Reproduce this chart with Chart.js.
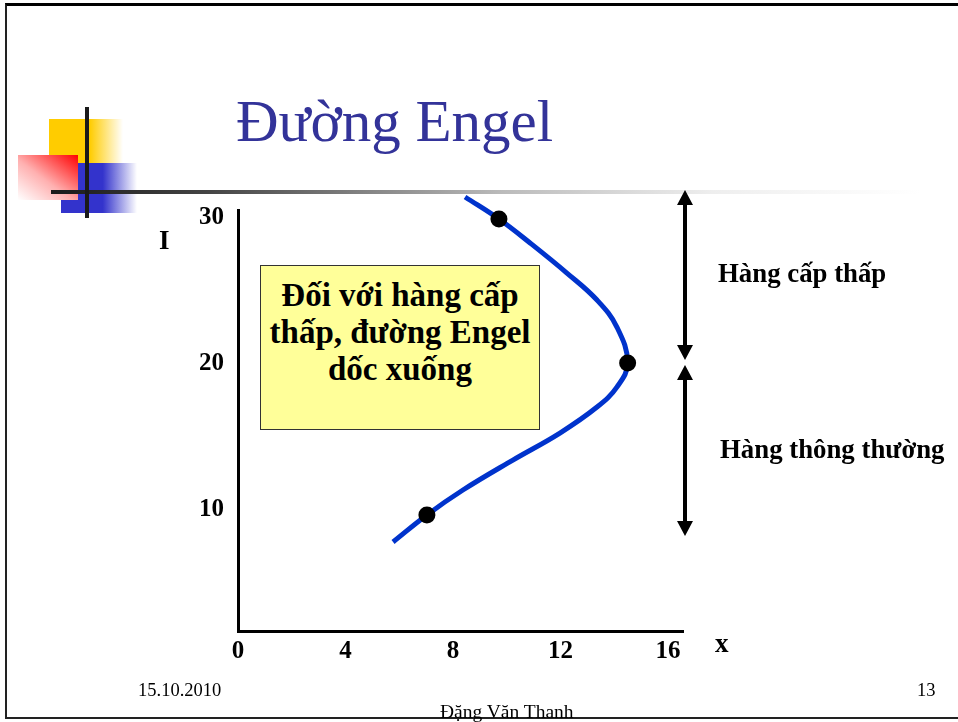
<!DOCTYPE html>
<html lang="vi">
<head>
<meta charset="utf-8">
<title>Đường Engel</title>
<script src="https://cdn.jsdelivr.net/npm/chart.js@4"></script>
<style>
  html, body { margin: 0; padding: 0; background: #fff; }
  body { width: 958px; height: 722px; position: relative; overflow: hidden; font-family: 'Liberation Serif', serif; }
  #chart { position: absolute; left: 0; top: 0; }
  .abs { position: absolute; white-space: nowrap; }
  .frame { position: absolute; left: 5px; top: 3px; width: 960px; height: 716px; border-top: 3px solid #000; border-left: 2px solid #222; border-bottom: 2px solid #222; box-sizing: border-box; }
  .sq-yellow { left: 49px; top: 119px; width: 74px; height: 44px; background: linear-gradient(to right, #ffcc00 0%, #ffcc00 55%, rgba(255,204,0,0) 100%); }
  .sq-blue { left: 61px; top: 163px; width: 76px; height: 50px; background: linear-gradient(to right, #3333cc 0%, #3333cc 55%, rgba(51,51,204,0) 100%); }
  .sq-red { left: 18px; top: 155px; width: 60px; height: 45px; background: linear-gradient(to bottom left, #ff0000 0%, #ffb0b0 55%, #ffffff 100%); }
  .bar-v { left: 85px; top: 107px; width: 4px; height: 111px; background: #1a1a1a; }
  .bar-h { left: 51px; top: 190px; width: 870px; height: 4px; background: linear-gradient(to right, #1a1a1a 0%, #444 18%, #bbb 52%, #eee 76%, rgba(255,255,255,0) 100%); }
  .title { left: 236px; top: 87px; font-size: 59px; color: #333399; }
  .note { left: 260px; top: 265px; width: 280px; height: 165px; background: #ffff99; border: 1.5px solid #333; box-sizing: border-box; text-align: center; font-weight: bold; font-size: 33px; line-height: 37px; padding-top: 11px; white-space: normal; }
  .side { font-weight: bold; font-size: 26.8px; }
  .axis-name { font-weight: bold; font-size: 27px; }
  .foot { font-size: 18.5px; }
</style>
</head>
<body>
<div class="frame"></div>
<div class="abs sq-yellow"></div>
<div class="abs sq-blue"></div>
<div class="abs sq-red"></div>
<div class="abs bar-h"></div>
<div class="abs bar-v"></div>
<div class="abs title">Đường Engel</div>
<canvas id="chart" width="958" height="722"></canvas>
<div class="abs note">Đối với hàng cấp<br>thấp, đường Engel<br>dốc xuống</div>
<div class="abs side" style="left:718px; top:258px;">Hàng cấp thấp</div>
<div class="abs side" style="left:720px; top:434px;">Hàng thông thường</div>
<div class="abs axis-name" style="left:159px; top:225px;">I</div>
<div class="abs axis-name" style="left:715px; top:628px;">x</div>
<div class="abs foot" style="left:138px; top:680px;">15.10.2010</div>
<div class="abs foot" style="left:917px; top:680px;">13</div>
<div class="abs foot" style="left:440px; top:701px; font-size:19.5px;">Đặng Văn Thanh</div>
<script>
// Engel curve (x = quantity, I = income)
const curveX = [8.45, 9.71, 10.87, 12.24, 13.36, 14.10, 14.50, 14.10, 13.36, 11.98, 10.23, 8.37, 7.03, 5.77];
const curveI = [31.44, 29.93, 28.29, 26.23, 24.38, 22.53, 20.07, 18.42, 17.05, 15.27, 13.42, 11.37, 9.66, 7.81];

// the three marked points
const markX = [9.71, 14.50, 7.03];
const markI = [29.93, 20.07, 9.66];

const xTicks = [0, 4, 8, 12, 16];
const yTicks = [10, 20, 30];

// double arrows on the right: [from, to] in income units
const upperRange = [20.27, 31.92];
const lowerRange = [8.22, 19.93];

const tickFont = { family: 'Liberation Serif', weight: 'bold', size: 25 };

function toPoints(xs, ys) {
  return xs.map((x, i) => ({ x, y: ys[i] }));
}

function drawArrow(ctx, x, yTop, yBottom) {
  const head = 15;
  const half = 8;
  ctx.save();
  ctx.strokeStyle = '#000';
  ctx.fillStyle = '#000';
  ctx.lineWidth = 4;
  ctx.beginPath();
  ctx.moveTo(x, yTop + head - 2);
  ctx.lineTo(x, yBottom - head + 2);
  ctx.stroke();
  ctx.beginPath();
  ctx.moveTo(x, yTop);
  ctx.lineTo(x - half, yTop + head);
  ctx.lineTo(x + half, yTop + head);
  ctx.closePath();
  ctx.fill();
  ctx.beginPath();
  ctx.moveTo(x, yBottom);
  ctx.lineTo(x - half, yBottom - head);
  ctx.lineTo(x + half, yBottom - head);
  ctx.closePath();
  ctx.fill();
  ctx.restore();
}

const arrowPlugin = {
  id: 'rangeArrows',
  afterDraw(chart) {
    const { ctx, scales } = chart;
    const x = chart.chartArea.right + 2;
    [upperRange, lowerRange].forEach((r) => {
      drawArrow(ctx, x, scales.y.getPixelForValue(r[1]), scales.y.getPixelForValue(r[0]));
    });
  },
};

new Chart(document.getElementById('chart'), {
  type: 'scatter',
  data: {
    datasets: [
      {
        data: toPoints(markX, markI),
        pointRadius: 8.5,
        pointBackgroundColor: '#000',
        pointBorderWidth: 0,
        showLine: false,
        order: 0,
      },
      {
        data: toPoints(curveX, curveI),
        showLine: true,
        borderColor: '#0033cc',
        borderWidth: 5,
        pointRadius: 0,
        tension: 0.4,
        clip: false,
        order: 1,
      },
    ],
  },
  options: {
    responsive: false,
    animation: false,
    layout: { padding: { left: 0, right: 275, top: 210, bottom: 31 } },
    plugins: { legend: { display: false }, tooltip: { enabled: false } },
    scales: {
      x: {
        type: 'linear',
        min: 0,
        max: 16.56,
        grid: { display: false, drawTicks: false },
        border: { display: true, color: '#000', width: 3 },
        ticks: { font: tickFont, color: '#000', padding: 6 },
        afterBuildTicks: (scale) => { scale.ticks = xTicks.map((v) => ({ value: v })); },
        afterFit: (scale) => { scale.height = 60; },
      },
      y: {
        type: 'linear',
        min: 1.71,
        max: 30.55,
        grid: { display: false, drawTicks: false },
        border: { display: true, color: '#000', width: 3 },
        ticks: { font: tickFont, color: '#000', padding: 14 },
        afterBuildTicks: (scale) => { scale.ticks = yTicks.map((v) => ({ value: v })); },
        afterFit: (scale) => { scale.width = 238; },
      },
    },
  },
  plugins: [arrowPlugin],
});
</script>
</body>
</html>
